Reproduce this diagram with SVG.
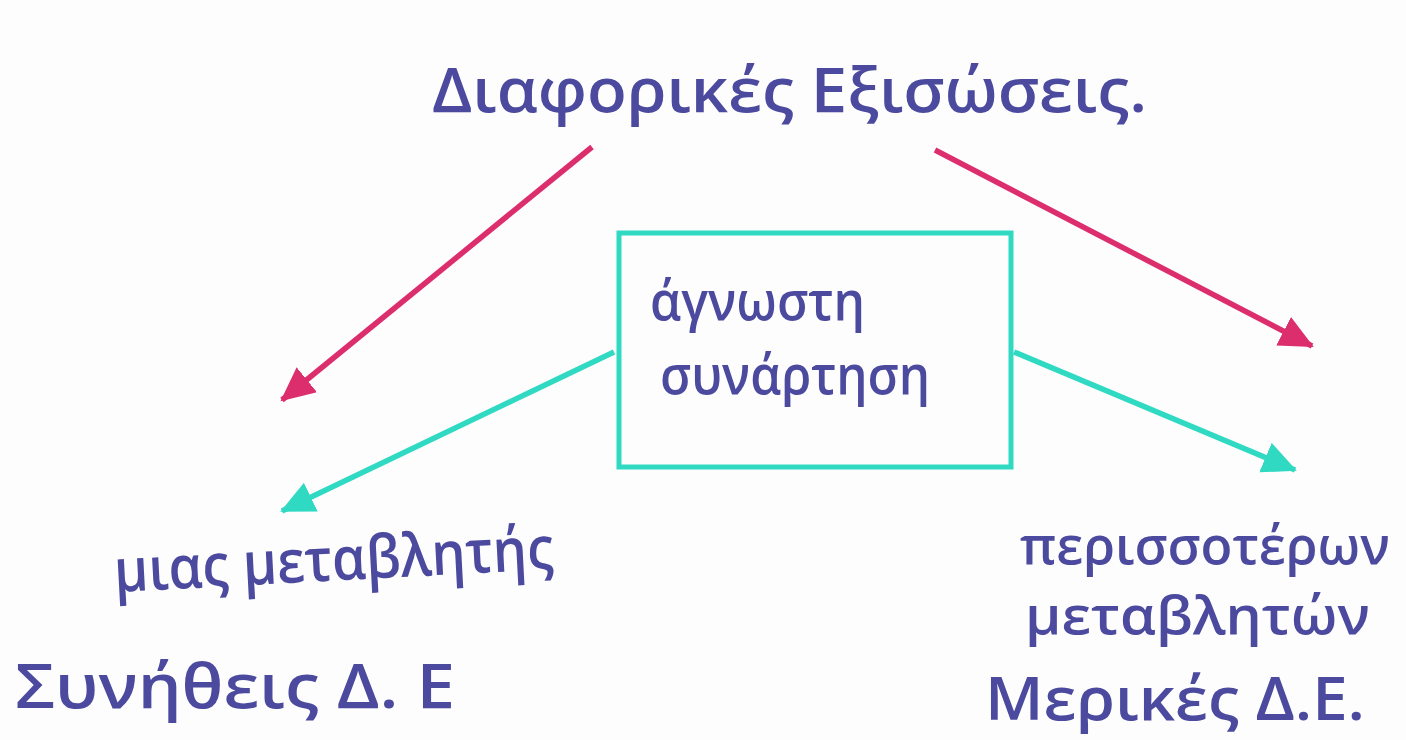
<svg xmlns="http://www.w3.org/2000/svg" width="1406" height="740" viewBox="0 0 1406 740">
<style>
.t{font-family:"Open Sans","Noto Sans","DejaVu Sans",sans-serif;fill:#4b4a9e;font-weight:600}
.pk{stroke:#dc2d6d;stroke-width:5.5;fill:none}
.tl{stroke:#2fd9c2;stroke-width:5.5;fill:none}
</style>
<defs>
<marker id="hp" markerUnits="userSpaceOnUse" markerWidth="44" markerHeight="44" refX="32" refY="16" orient="auto">
<path d="M0,0 L34,16 L0,32 Z" fill="#dc2d6d"/>
</marker>
<marker id="ht" markerUnits="userSpaceOnUse" markerWidth="44" markerHeight="44" refX="32" refY="16" orient="auto">
<path d="M0,0 L34,16 L0,32 Z" fill="#2fd9c2"/>
</marker>
</defs>
<rect width="1406" height="740" fill="#fdfdfe"/>
<g id="connectors">
<line class="pk" x1="592" y1="147" x2="282" y2="400" marker-end="url(#hp)"/>
<line class="pk" x1="935" y1="150" x2="1312" y2="346" marker-end="url(#hp)"/>
<line class="tl" x1="614" y1="352" x2="282" y2="511" marker-end="url(#ht)"/>
<line class="tl" x1="1014" y1="352" x2="1295" y2="470" marker-end="url(#ht)"/>
</g>
<g id="title">
<text class="t" x="432" y="112" font-size="62" textLength="715" lengthAdjust="spacingAndGlyphs">Διαφορικές Εξισώσεις.</text>
</g>
<g id="unknown-function">
<rect x="619" y="233" width="392" height="234" fill="none" stroke="#2fd9c2" stroke-width="5"/>
<text class="t" x="650" y="320" font-size="54" textLength="215" lengthAdjust="spacingAndGlyphs">άγνωστη</text>
<text class="t" x="660" y="394" font-size="54" textLength="270" lengthAdjust="spacingAndGlyphs">συνάρτηση</text>
</g>
<g id="single-variable">
<text class="t" x="115" y="592" font-size="60" textLength="440" lengthAdjust="spacingAndGlyphs" transform="rotate(-3 115 592)">μιας μεταβλητής</text>
<text class="t" x="15" y="708" font-size="62" textLength="440" lengthAdjust="spacingAndGlyphs">Συνήθεις  Δ. Ε</text>
</g>
<g id="multi-variable">
<text class="t" x="1020" y="564" font-size="52" textLength="370" lengthAdjust="spacingAndGlyphs">περισσοτέρων</text>
<text class="t" x="1025" y="634" font-size="52" textLength="345" lengthAdjust="spacingAndGlyphs">μεταβλητών</text>
<text class="t" x="985" y="720" font-size="60" textLength="380" lengthAdjust="spacingAndGlyphs">Μερικές Δ.Ε.</text>
</g>
</svg>
